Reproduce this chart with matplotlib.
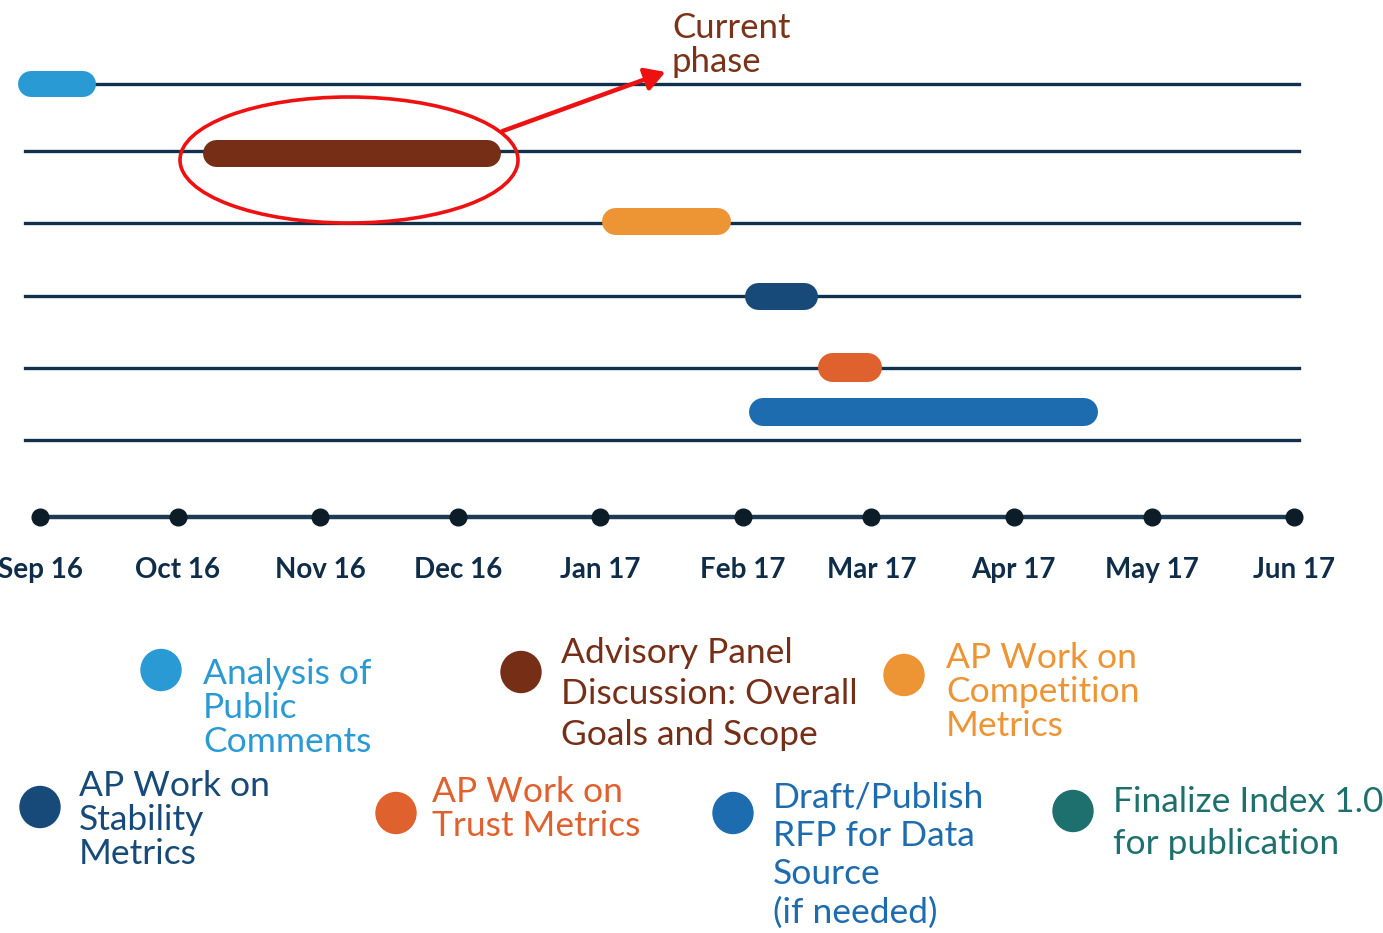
"""Project timeline (Sep 2016 - Jun 2017) with phase bars and legend."""

from datetime import date

import matplotlib

matplotlib.use("Agg")
import matplotlib.dates as mdates
import matplotlib.pyplot as plt
from matplotlib.patches import Ellipse, FancyArrowPatch

plt.rcParams["font.family"] = ["Lato", "DejaVu Sans"]

# ---- data ----
months = ["Sep 16", "Oct 16", "Nov 16", "Dec 16", "Jan 17",
          "Feb 17", "Mar 17", "Apr 17", "May 17", "Jun 17"]
month_starts = [date(2016, 9, 1), date(2016, 10, 1), date(2016, 11, 1), date(2016, 12, 1),
                date(2017, 1, 1), date(2017, 2, 1), date(2017, 3, 1), date(2017, 4, 1),
                date(2017, 5, 1), date(2017, 6, 1)]

tasks = ["Analysis of\nPublic\nComments",
         "Advisory Panel\nDiscussion: Overall\nGoals and Scope",
         "AP Work on\nCompetition\nMetrics",
         "AP Work on\nStability\nMetrics",
         "AP Work on\nTrust Metrics",
         "Draft/Publish\nRFP for Data\nSource\n(if needed)",
         "Finalize Index 1.0\nfor publication"]
task_colors = ["#2a9ad4", "#762e16", "#ed9434", "#174a78", "#df612e", "#1e6cb0", "#1e706e"]
bar_starts = [date(2016, 8, 27), date(2016, 10, 6), date(2017, 1, 1),
              date(2017, 2, 1), date(2017, 2, 17), date(2017, 2, 2)]
bar_ends = [date(2016, 9, 13), date(2016, 12, 10), date(2017, 1, 29),
            date(2017, 2, 17), date(2017, 3, 3), date(2017, 4, 19)]

# ---- layout (pixel coords on a 1383x933 canvas) ----
W, H = 1383, 933
x0_px, x1_px = 40, 1294          # Sep 1 2016 .. Jun 1 2017
px_per_day = (x1_px - x0_px) / (month_starts[-1] - month_starts[0]).days
row_lines_y = [84, 151, 223, 296, 368, 440]
bar_y = [84, 153, 221, 296, 367, 412]
bar_h = [26, 27, 27, 27, 29, 28]
axis_y = 517
navy = "#10304c"

fig = plt.figure(figsize=(W / 100, H / 100), dpi=100)
ax = fig.add_axes([0, 0, 1, 1])
d0 = mdates.date2num(month_starts[0])
ax.set_xlim(d0 - x0_px / px_per_day, d0 + (W - x0_px) / px_per_day)
ax.set_ylim(H, 0)
ax.axis("off")

# horizontal row rules
line_left = mdates.date2num(date(2016, 8, 28)) + 0.7
line_right = mdates.date2num(date(2017, 6, 2))
for y in row_lines_y:
    ax.plot([line_left, line_right], [y, y], color=navy, lw=2.4, zorder=1)

# phase bars (round caps, shrink ends so the cap lands on the given date)
for s, e, y, h, c in zip(bar_starts, bar_ends, bar_y, bar_h, task_colors):
    cap_days = (h / 2) / px_per_day
    xs = mdates.date2num(s) + cap_days + 0.3
    xe = mdates.date2num(e) - cap_days + 0.3
    ax.plot([xs, xe], [y, y], color=c, lw=h * 0.72,
            solid_capstyle="round", zorder=3)

# timeline axis with month dots
mx = [mdates.date2num(m) for m in month_starts]
ax.plot([mx[0], mx[-1]], [axis_y, axis_y], color="#1d3a52", lw=3.2, zorder=2)
ax.plot(mx, [axis_y] * len(mx), "o", color="#0c1d28", ms=12, zorder=3)
for x, lab in zip(mx, months):
    ax.text(x, 570, lab, ha="center", va="center", fontsize=20,
            fontweight="bold", color="#0f2d48")

# overlay in pixel coords for annotation and legend
ov = fig.add_axes([0, 0, 1, 1])
ov.set_xlim(0, W)
ov.set_ylim(H, 0)
ov.axis("off")
ov.patch.set_alpha(0)

ov.add_patch(Ellipse((349, 160), 338, 126, fill=False, edgecolor="#ee1111", lw=2.6, zorder=4))
ov.add_patch(FancyArrowPatch((500, 132), (668, 71), arrowstyle="-|>,head_length=12,head_width=7",
                             color="#ee1111", lw=3.2, zorder=4))
ov.text(672, 45, "Current\nphase", ha="left", va="center", fontsize=25,
        color="#7a3318", linespacing=1.1)

# legend entries: (circle x, circle y, text x, text center y, line spacing)
legend_pos = [(161, 670, 203, 708, 1.08),
              (521, 672, 561, 694, 1.33),
              (904, 675, 946, 692, 1.07),
              (40, 807, 79, 820, 1.08),
              (396, 813, 432, 809, 1.08),
              (733, 813, 773, 855, 1.24),
              (1073, 811, 1113, 823, 1.39)]
for (cx, cy, tx, ty, ls), lab, c in zip(legend_pos, tasks, task_colors):
    ov.add_patch(Ellipse((cx, cy), 40, 41, color=c, zorder=3))
    ov.text(tx, ty, lab, ha="left", va="center", fontsize=25.5, color=c, linespacing=ls)

fig.savefig("out.png", dpi=100)
